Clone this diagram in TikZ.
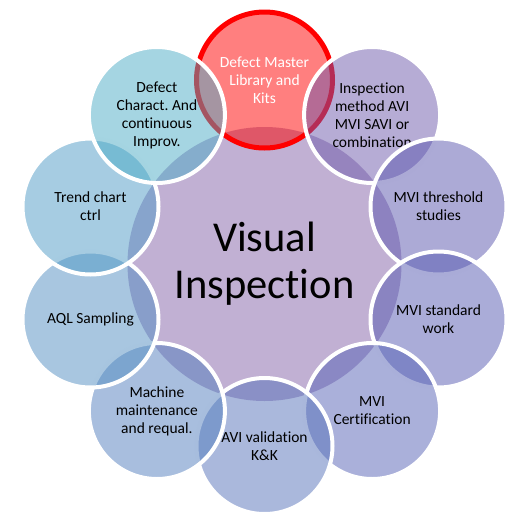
\documentclass[tikz,border=0pt]{standalone}
\usepackage{fontspec}
\setmainfont{Carlito}[Ligatures=NoCommon]
\frenchspacing
\definecolor{cCenter}{RGB}{131,97,167}
\definecolor{cRed}{RGB}{255,0,0}
\definecolor{cA}{RGB}{109,89,171}
\definecolor{cB}{RGB}{89,85,173}
\definecolor{cC}{RGB}{85,89,177}
\definecolor{cD}{RGB}{85,97,181}
\definecolor{cE}{RGB}{85,113,185}
\definecolor{cF}{RGB}{81,125,189}
\definecolor{cG}{RGB}{81,141,193}
\definecolor{cH}{RGB}{77,153,197}
\definecolor{cI}{RGB}{75,171,197}
\tikzset{
  petal/.style={circle, minimum size=136pt, inner sep=0pt, fill opacity=0.5,
    draw opacity=1, text opacity=1, draw=white, line width=4pt, align=center,
    font=\fontsize{15.5}{18}\selectfont, text=black},
  hub/.style={circle, minimum size=274pt, inner sep=0pt, fill=cCenter, fill opacity=0.5,
    text opacity=1, align=center, font=\fontsize{42.5}{47}\selectfont, text=black}
}
\begin{document}
\begin{tikzpicture}[x=1pt,y=-1pt]
\useasboundingbox (0,0) rectangle (512,515);
\node[hub] (hub) at (264.5,264) {Visual\\Inspection};
\node[petal, fill=cRed, draw=cRed, line width=5pt, text=white] (p0) at (264.5,80) {Defect Master\\Library and\\Kits};
\node[petal, fill=cA] (p1) at (372.1,115) {Inspection\\method AVI\\MVI SAVI or\\combination};
\node[petal, fill=cB] (p2) at (438.5,206.5) {MVI threshold\\studies};
\node[petal, fill=cC] (p3) at (438.5,319.5) {MVI standard\\work};
\node[petal, fill=cD] (p4) at (372.1,411) {MVI\\Certification};
\node[petal, fill=cE] (p5) at (264.5,446) {AVI validation\\K\&K};
\node[petal, fill=cF] (p6) at (156.9,411) {Machine\\maintenance\\and requal.};
\node[petal, fill=cG] (p7) at (90.5,319.5) {AQL Sampling};
\node[petal, fill=cH] (p8) at (90.5,206.5) {Trend chart\\ctrl};
\node[petal, fill=cI] (p9) at (156.9,115) {Defect\\Charact. And\\continuous\\Improv.};
\end{tikzpicture}
\end{document}
